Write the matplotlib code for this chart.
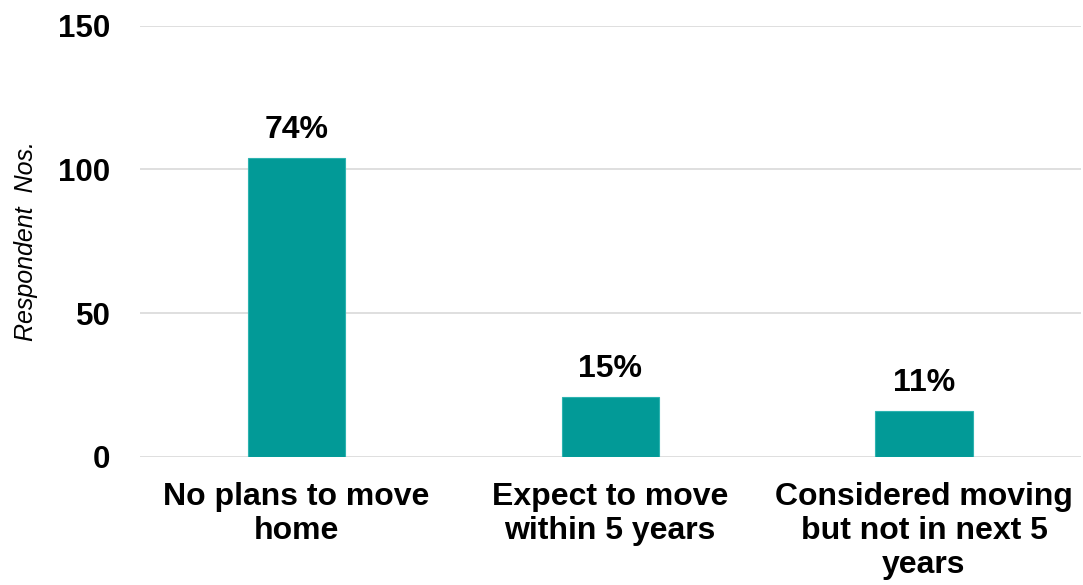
import matplotlib.pyplot as plt

plt.rcParams['font.family'] = ['Liberation Sans', 'DejaVu Sans']

categories = ['No plans to move\nhome', 'Expect to move\nwithin 5 years',
              'Considered moving\nbut not in next 5\nyears']
respondents = [104, 21, 16]
total = sum(respondents)

fig = plt.figure(figsize=(10.83, 5.85), dpi=100)
ax = fig.add_axes([0.129, 0.219, 0.869, 0.737])

x = range(len(categories))
bars = ax.bar(x, respondents, width=0.31, color='#029A97',
              edgecolor='#2db3b0', linewidth=0.8, zorder=3)

for b, v in zip(bars, respondents):
    ax.annotate(f'{round(v / total * 100)}%',
                (b.get_x() + b.get_width() / 2, b.get_height()),
                xytext=(0, 9), textcoords='offset points',
                ha='center', va='bottom', fontsize=23, fontweight='bold')

ax.set_xlim(-0.5, 2.5)
ax.set_ylim(0, 150)
ax.set_yticks([0, 50, 100, 150])
ax.set_xticks(list(x))
ax.set_xticklabels(categories, fontsize=23, fontweight='bold', linespacing=1.17)
ax.tick_params(axis='y', length=0, pad=21, labelsize=22.5)
ax.tick_params(axis='x', length=0, pad=18)
for lbl in ax.get_yticklabels():
    lbl.set_fontweight('bold')

ax.grid(axis='y', color='#d9d9d9', linewidth=1.2, zorder=0)
for s in ax.spines.values():
    s.set_visible(False)

ax.set_ylabel('Respondent  Nos.', fontsize=18, fontstyle='italic')
ax.yaxis.set_label_coords(-0.108, 0.5)

fig.savefig('out.png', dpi=100)
